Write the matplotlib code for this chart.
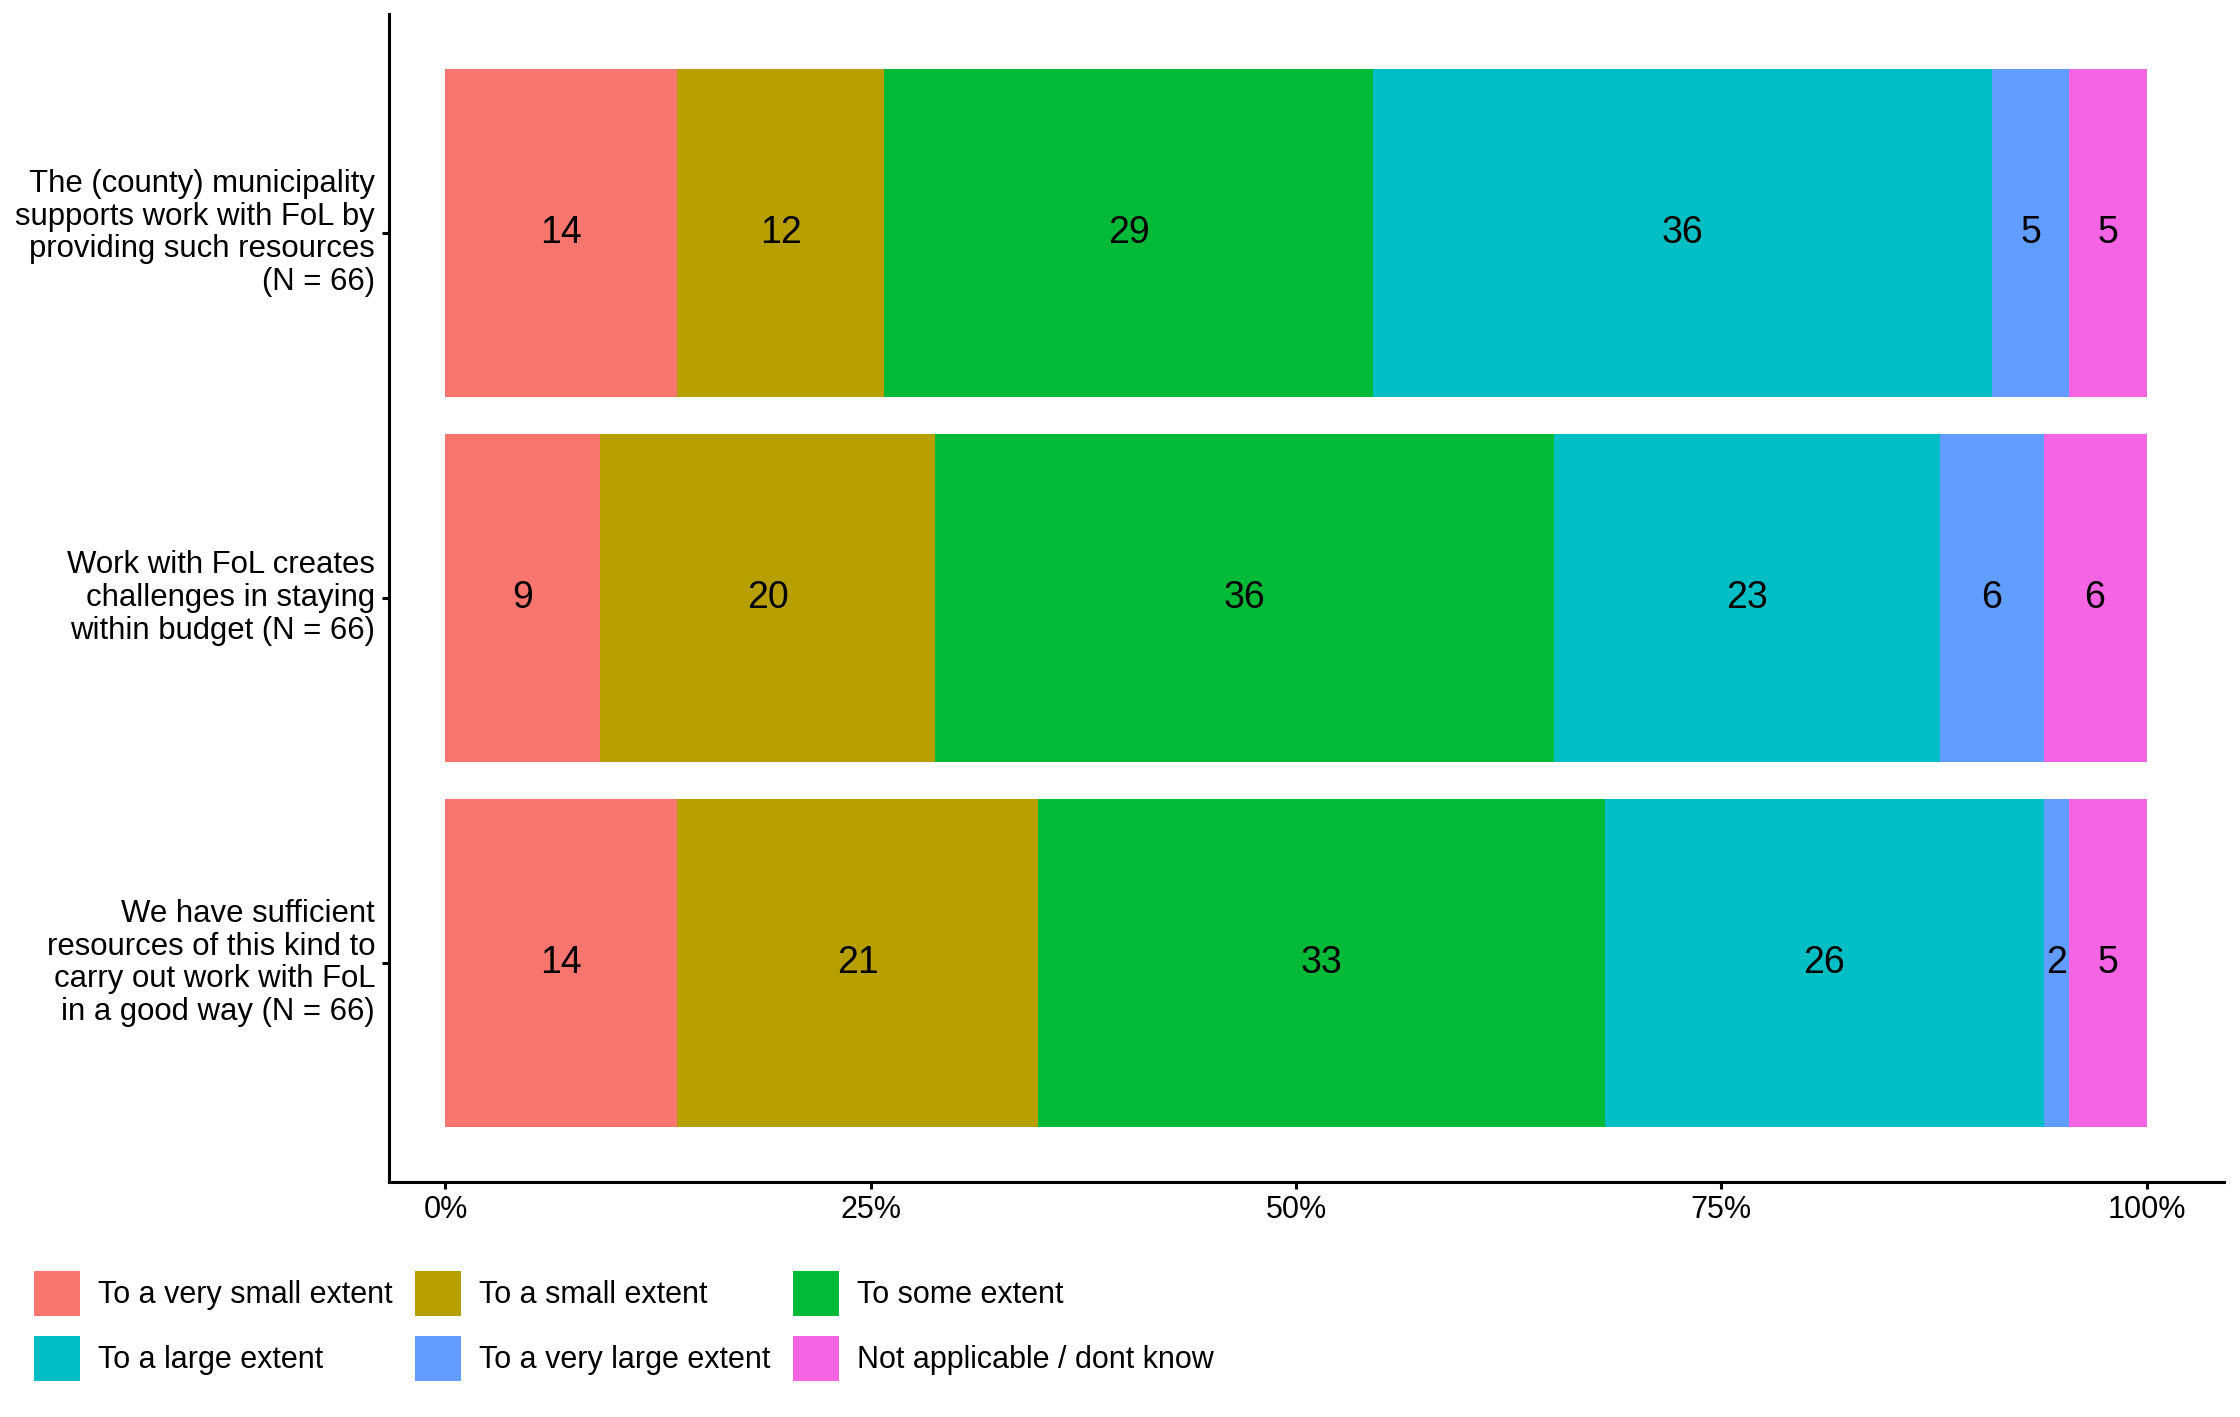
import matplotlib
matplotlib.use("Agg")
import matplotlib.pyplot as plt
import numpy as np
from matplotlib.patches import Patch

plt.rcParams['font.family'] = ['Liberation Sans', 'DejaVu Sans']

categories = [
    "The (county) municipality\nsupports work with FoL by\nproviding such resources\n(N = 66)",
    "Work with FoL creates\nchallenges in staying\nwithin budget (N = 66)",
    "We have sufficient\nresources of this kind to\ncarry out work with FoL\nin a good way (N = 66)",
]
responses = ["To a very small extent", "To a small extent", "To some extent",
             "To a large extent", "To a very large extent", "Not applicable / dont know"]
colors = ["#F8766D", "#B79F00", "#00BA38", "#00BFC4", "#619CFF", "#F564E3"]
n_total = [66, 66, 66]
# counts per response for each statement (rows = categories)
counts = [
    [9, 8, 19, 24, 3, 3],
    [6, 13, 24, 15, 4, 4],
    [9, 14, 22, 17, 1, 3],
]
xticks = [0, 25, 50, 75, 100]
xticklabels = ["0%", "25%", "50%", "75%", "100%"]

W, H, DPI = 2240, 1417, 200
fig = plt.figure(figsize=(W / DPI, H / DPI), dpi=DPI)
ax = fig.add_axes([389 / W, 1 - 1182 / H, (2224 - 389) / W, (1182 - 14) / H])

ypos = np.arange(len(categories))[::-1] + 1  # first category at top
for i, cat in enumerate(categories):
    left = 0.0
    for j, resp in enumerate(responses):
        pct = counts[i][j] / n_total[i] * 100
        ax.barh(ypos[i], pct, left=left, height=0.9, color=colors[j], edgecolor='none')
        ax.text(left + pct / 2, ypos[i], f"{int(np.floor(pct + 0.5))}",
                ha='center', va='center', fontsize=13.5, color='black')
        left += pct

ax.set_xlim(-3.32, 104.55)
ax.set_ylim(0.4, 3.6)
ax.set_yticks(ypos)
ax.set_yticklabels(categories, fontsize=11.2, linespacing=1.12, ha='right', va='center')
ax.set_xticks(xticks)
ax.set_xticklabels(xticklabels, fontsize=11)
for s in ['top', 'right']:
    ax.spines[s].set_visible(False)
for s in ['left', 'bottom']:
    ax.spines[s].set_linewidth(1.1)
ax.tick_params(axis='both', length=2.5, width=1.1, color='black', labelcolor='black')
ax.tick_params(axis='y', pad=2.5)
ax.tick_params(axis='x', pad=2)

handles = [Patch(facecolor=c, edgecolor='none', label=r) for c, r in zip(colors, responses)]
order = [0, 3, 1, 4, 2, 5]
fig.legend([handles[k] for k in order], [responses[k] for k in order],
           ncol=3, loc='upper left', bbox_to_anchor=(34 / W, 1 - 1271 / H),
           frameon=False, fontsize=11, borderpad=0, borderaxespad=0,
           handlelength=1.5, handleheight=1.89, handletextpad=0.6,
           columnspacing=0.73, labelspacing=0.66)

fig.savefig("out.png", dpi=DPI)
